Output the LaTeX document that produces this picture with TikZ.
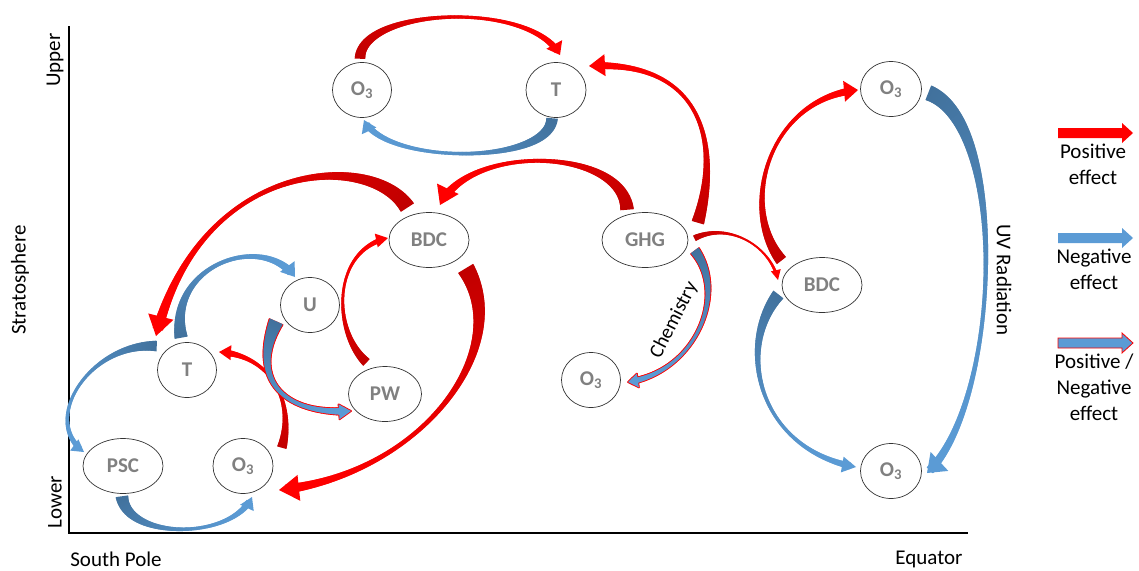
\documentclass[tikz,border=0pt]{standalone}
\usepackage{fontspec}
\setmainfont{Carlito}
\usetikzlibrary{shapes.geometric,decorations.markings,calc}

\definecolor{posdark}{HTML}{C00000}
\definecolor{poslight}{HTML}{FF0000}
\definecolor{negdark}{HTML}{41719C}
\definecolor{neglight}{HTML}{5B9BD5}
\definecolor{labelgray}{HTML}{808080}

\tikzset{
  bub/.style={ellipse, draw=black!80, line width=0.7pt, inner sep=0pt,
    minimum width=#1, minimum height=55pt, text=labelgray,
    font=\bfseries\fontsize{21}{21}\selectfont},
  bub/.default=60pt,
  lab/.style={font=\fontsize{21}{26}\selectfont, inner sep=0pt, align=center},
  bandheadstyle/.style={},
}

% ---- tapered curved arrows -------------------------------------------
% one thin slice of the band, placed along the path by the markings
\newcommand\bandslice{%
  \pgfmathsetmacro\bandt{min(1,\pgfkeysvalueof{/pgf/decoration/mark info/distance from start}/(\pgfdecoratedpathlength-\bandcut))}%
  \pgfmathsetmacro\bandu{1-\bandt}%
  \pgfmathsetmacro\bandw{0.5*(\bandA*\bandu*\bandu*\bandu+\bandC*\bandt*\bandt*\bandt+\bandM)+\bandgrow}%
  \pgfmathtruncatemacro\bandpct{100*\bandu*sqrt(\bandu)}%
  \fill[fill=\banddark!\bandpct!\bandlight] (-0.75pt,-\bandw pt) rectangle (0.75pt,\bandw pt);%
}
% body from (bandS) to (bandE), then the head along the last tangent
\newcommand\bandpath{%
  \path[decorate, decoration={markings,
    mark=between positions 0 and -\bandcut pt step 0.8pt with {\bandslice}}]
    (bandS) .. controls (bandP) and (bandQ) .. (bandE);%
  \path let \p1=($(bandE)-(bandQ)$), \n1={atan2(\y1,\x1)} in
    \pgfextra{\xdef\bandang{\n1}};%
  \fill[fill=\bandlight, bandheadstyle, shift={(bandE)}, rotate=\bandang]
    (0pt,0pt) -- (-\bandHL pt,0.5*\bandHW pt) -- (-\bandHL pt,-0.5*\bandHW pt) -- cycle;%
}
% tail width, waist, width before head, head width, head length,
% start, two controls, end
\newcommand\bandset[9]{%
  \def\bandA{#1}\def\bandM{#2}\def\bandC{#3}\def\bandHW{#4}\def\bandHL{#5}%
  \pgfmathsetmacro\bandcut{0.55*#5}%
  \coordinate (bandS) at (#6);\coordinate (bandP) at (#7);%
  \coordinate (bandQ) at (#8);\coordinate (bandE) at (#9);%
}
\newcommand\posarrow[9]{%
  \bandset{#1}{#2}{#3}{#4}{#5}{#6}{#7}{#8}{#9}%
  \def\banddark{posdark}\def\bandlight{poslight}\def\bandgrow{0}%
  \tikzset{bandheadstyle/.style={}}%
  \bandpath}
\newcommand\negarrow[9]{%
  \bandset{#1}{#2}{#3}{#4}{#5}{#6}{#7}{#8}{#9}%
  \def\banddark{negdark}\def\bandlight{neglight}\def\bandgrow{0}%
  \tikzset{bandheadstyle/.style={}}%
  \bandpath}
\newcommand\mixarrow[9]{%
  \bandset{#1}{#2}{#3}{#4}{#5}{#6}{#7}{#8}{#9}%
  \def\banddark{poslight}\def\bandlight{poslight}\def\bandgrow{0.9}%
  \tikzset{bandheadstyle/.style={draw=poslight,line width=1.8pt,line join=round}}%
  \bandpath
  \def\banddark{negdark}\def\bandlight{neglight}\def\bandgrow{0}%
  \tikzset{bandheadstyle/.style={}}%
  \bandpath}

\begin{document}
\begin{tikzpicture}[x=1pt, y=-1pt]
\path[use as bounding box] (0,0) rectangle (1139,570);

% axes
\coordinate (ytop) at (69,26);
\coordinate (origin) at (69,533);
\coordinate (xend) at (968,533);
\draw[line width=1.5pt] (ytop) -- (origin) -- (xend);

\node[lab, rotate=90] (upper) at (55,60) {Upper};
\node[lab, rotate=90] (lower) at (55,502) {Lower};
\node[lab, rotate=90] (strato) at (20,280) {Stratosphere};
\node[lab] (spole) at (116,559) {South Pole};
\node[lab] (equator) at (929,559) {Equator};
\node[lab, rotate=-90] (uv) at (1004,280) {UV Radiation};
\node[lab, font=\fontsize{20}{24}\selectfont, rotate=63] (chem) at (674,320) {Chemistry};

% quantities
\node[bub=59pt] (o3u) at (362,90) {O\textsubscript{3}};
\node[bub=60pt] (tu) at (556,90) {T};
\node[bub=80pt] (bdc) at (429,240) {BDC};
\node[bub=86pt] (ghg) at (645,240) {GHG};
\node[bub=59pt] (u) at (310,305) {U};
\node[bub=73pt] (pw) at (385,394) {PW};
\node[bub=59pt] (tl) at (187,370) {T};
\node[bub=80pt] (psc) at (123,466) {PSC};
\node[bub=60pt] (o3l) at (243,466) {O\textsubscript{3}};
\node[bub=59pt] (o3c) at (591,380) {O\textsubscript{3}};
\node[bub=80pt] (bdcr) at (822,285) {BDC};
\node[bub=61pt] (o3rt) at (891,89) {O\textsubscript{3}};
\node[bub=61pt] (o3rb) at (891,471) {O\textsubscript{3}};

% upper stratosphere
\posarrow{9}{1.5}{5}{18}{12}{$(o3u)+(-2,-32)$}{362,8}{530,0}{$(tu)+(4,-35)$}
\negarrow{10}{1.5}{5}{16}{12}{$(tu)+(-4,29)$}{548,165}{385,165}{$(o3u)+(2,30)$}
\posarrow{11}{1.5}{6}{22}{16}{$(ghg)+(53,-18)$}{722,140}{700,60}{$(tu)+(33,-24)$}
\posarrow{12}{1.5}{7}{24}{18}{$(ghg)+(-18,-31)$}{622,148}{470,143}{$(bdc)+(11,-35)$}

% polar lower stratosphere
\posarrow{14}{1.5}{9}{26}{20}{$(bdc)+(-22,-33)$}{370,150}{200,160}{$(tl)+(-31,-34)$}
\negarrow{11}{2}{6}{18}{13}{$(tl)+(-6,-33)$}{168,265}{262,232}{$(u)+(-15,-28)$}
\negarrow{9}{1.5}{4}{14}{12}{$(tl)+(-31,-24)$}{90,343}{40,420}{$(psc)+(-39,-14)$}
\posarrow{8}{1.5}{5}{15}{12}{$(o3l)+(39,-19)$}{295,400}{270,355}{$(tl)+(32,-18)$}
\negarrow{11}{1.5}{5}{15}{12}{$(psc)+(-1,31)$}{128,540}{232,540}{$(o3l)+(9,31)$}
\mixarrow{12}{2}{5}{15}{12}{$(u)+(-34,17)$}{248,385}{290,415}{$(pw)+(-34,17)$}
\posarrow{8}{1.2}{4}{14}{12}{$(pw)+(-19,-32)$}{332,330}{332,250}{$(bdc)+(-41,-2)$}
\posarrow{16}{1.5}{8}{26}{20}{$(bdc)+(37,29)$}{515,350}{420,475}{$(o3l)+(36,24)$}

% greenhouse gases and the tropics
\mixarrow{8}{1.5}{4}{14}{10}{$(ghg)+(50,11)$}{728,295}{695,372}{$(o3c)+(37,2)$}
\posarrow{5}{1}{2}{10}{10}{$(ghg)+(50,-2)$}{728,222}{770,245}{$(bdcr)+(-44,-5)$}
\posarrow{10}{1.5}{6}{21}{14}{$(bdcr)+(-41,-25)$}{738,205}{770,98}{$(o3rt)+(-33,1)$}
\negarrow{11}{1.5}{5}{16}{14}{$(bdcr)+(-44,10)$}{735,350}{760,450}{$(o3rb)+(-35,-4)$}
\negarrow{14}{1.5}{7}{26}{17}{$(o3rt)+(38,4)$}{1010,125}{1000,405}{$(o3rb)+(36,2)$}

% legend
\fill[poslight] (1058,128) -- (1122,128) -- (1122,123) -- (1133,133) -- (1122,143) -- (1122,138) -- (1058,138) -- cycle;
\node[lab] (legpos) at (1093,164.5) {Positive\\effect};
\fill[neglight] (1058,233) -- (1122,233) -- (1122,228) -- (1133,238) -- (1122,248) -- (1122,243) -- (1058,243) -- cycle;
\node[lab] (legneg) at (1094,269) {Negative\\effect};
\filldraw[fill=neglight, draw=poslight, line width=0.8pt] (1058,338) -- (1122,338) -- (1122,333) -- (1133,343) -- (1122,353) -- (1122,348) -- (1058,348) -- cycle;
\node[lab] (legmix) at (1094,387) {Positive /\\Negative\\effect};
\end{tikzpicture}
\end{document}
